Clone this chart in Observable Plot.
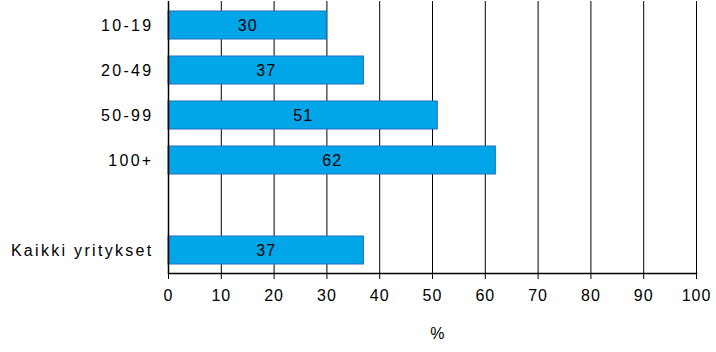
<!DOCTYPE html>
<html>
<head>
<meta charset="utf-8">
<script src="https://cdn.jsdelivr.net/npm/d3@7"></script>
<script src="https://cdn.jsdelivr.net/npm/@observablehq/plot@0.6"></script>
<style>
  html, body { margin: 0; padding: 0; background: #fff; }
  svg { display: block; }
  g[aria-label="y-axis tick label"] text { letter-spacing: 2.3px; }
</style>
</head>
<body>
<div id="chart"></div>
<script>
const categories = ["10-19", "20-49", "50-99", "100+", " ", "Kaikki yritykset"];
const values = [30, 37, 51, 62, null, 37];
const xTicks = [0, 10, 20, 30, 40, 50, 60, 70, 80, 90, 100];
const axisLabel = "%";

const data = categories.map((c, i) => ({cat: c, value: values[i]})).filter(d => d.value != null);

const font = "Liberation Sans, Arial, sans-serif";

const chart = Plot.plot({
  width: 716,
  height: 352,
  marginLeft: 168,
  marginRight: 20,
  marginTop: 1,
  marginBottom: 79,
  style: {fontFamily: font, fontSize: "16px", color: "black", background: "white", letterSpacing: "1px"},
  x: {domain: [0, 100], ticks: xTicks},
  y: {domain: categories, paddingInner: 0.38, paddingOuter: 0.19},
  marks: [
    Plot.ruleX(xTicks.slice(1), {stroke: "black", strokeWidth: 1}),
    Plot.barX(data, {y: "cat", x: "value", fill: "#00a6e8", stroke: "#1f6fc0", strokeWidth: 1}),
    Plot.text(data, {y: "cat", x: d => d.value / 2, text: d => String(d.value), fill: "black", fontSize: 16}),
    Plot.ruleX([0], {stroke: "black", strokeWidth: 1.5}),
    Plot.frame({anchor: "bottom", stroke: "black", strokeWidth: 1.5}),
    Plot.axisX({ticks: xTicks, tickSize: 6, tickPadding: 10, label: null, stroke: "black", fill: "black"}),
    Plot.axisY({tickSize: 0, tickPadding: 15, label: null, fill: "black"}),
    Plot.text([axisLabel], {x: 51, frameAnchor: "bottom", dy: 65, text: d => d, fill: "black", fontSize: 16})
  ]
});

document.getElementById("chart").appendChild(chart);
</script>
</body>
</html>
